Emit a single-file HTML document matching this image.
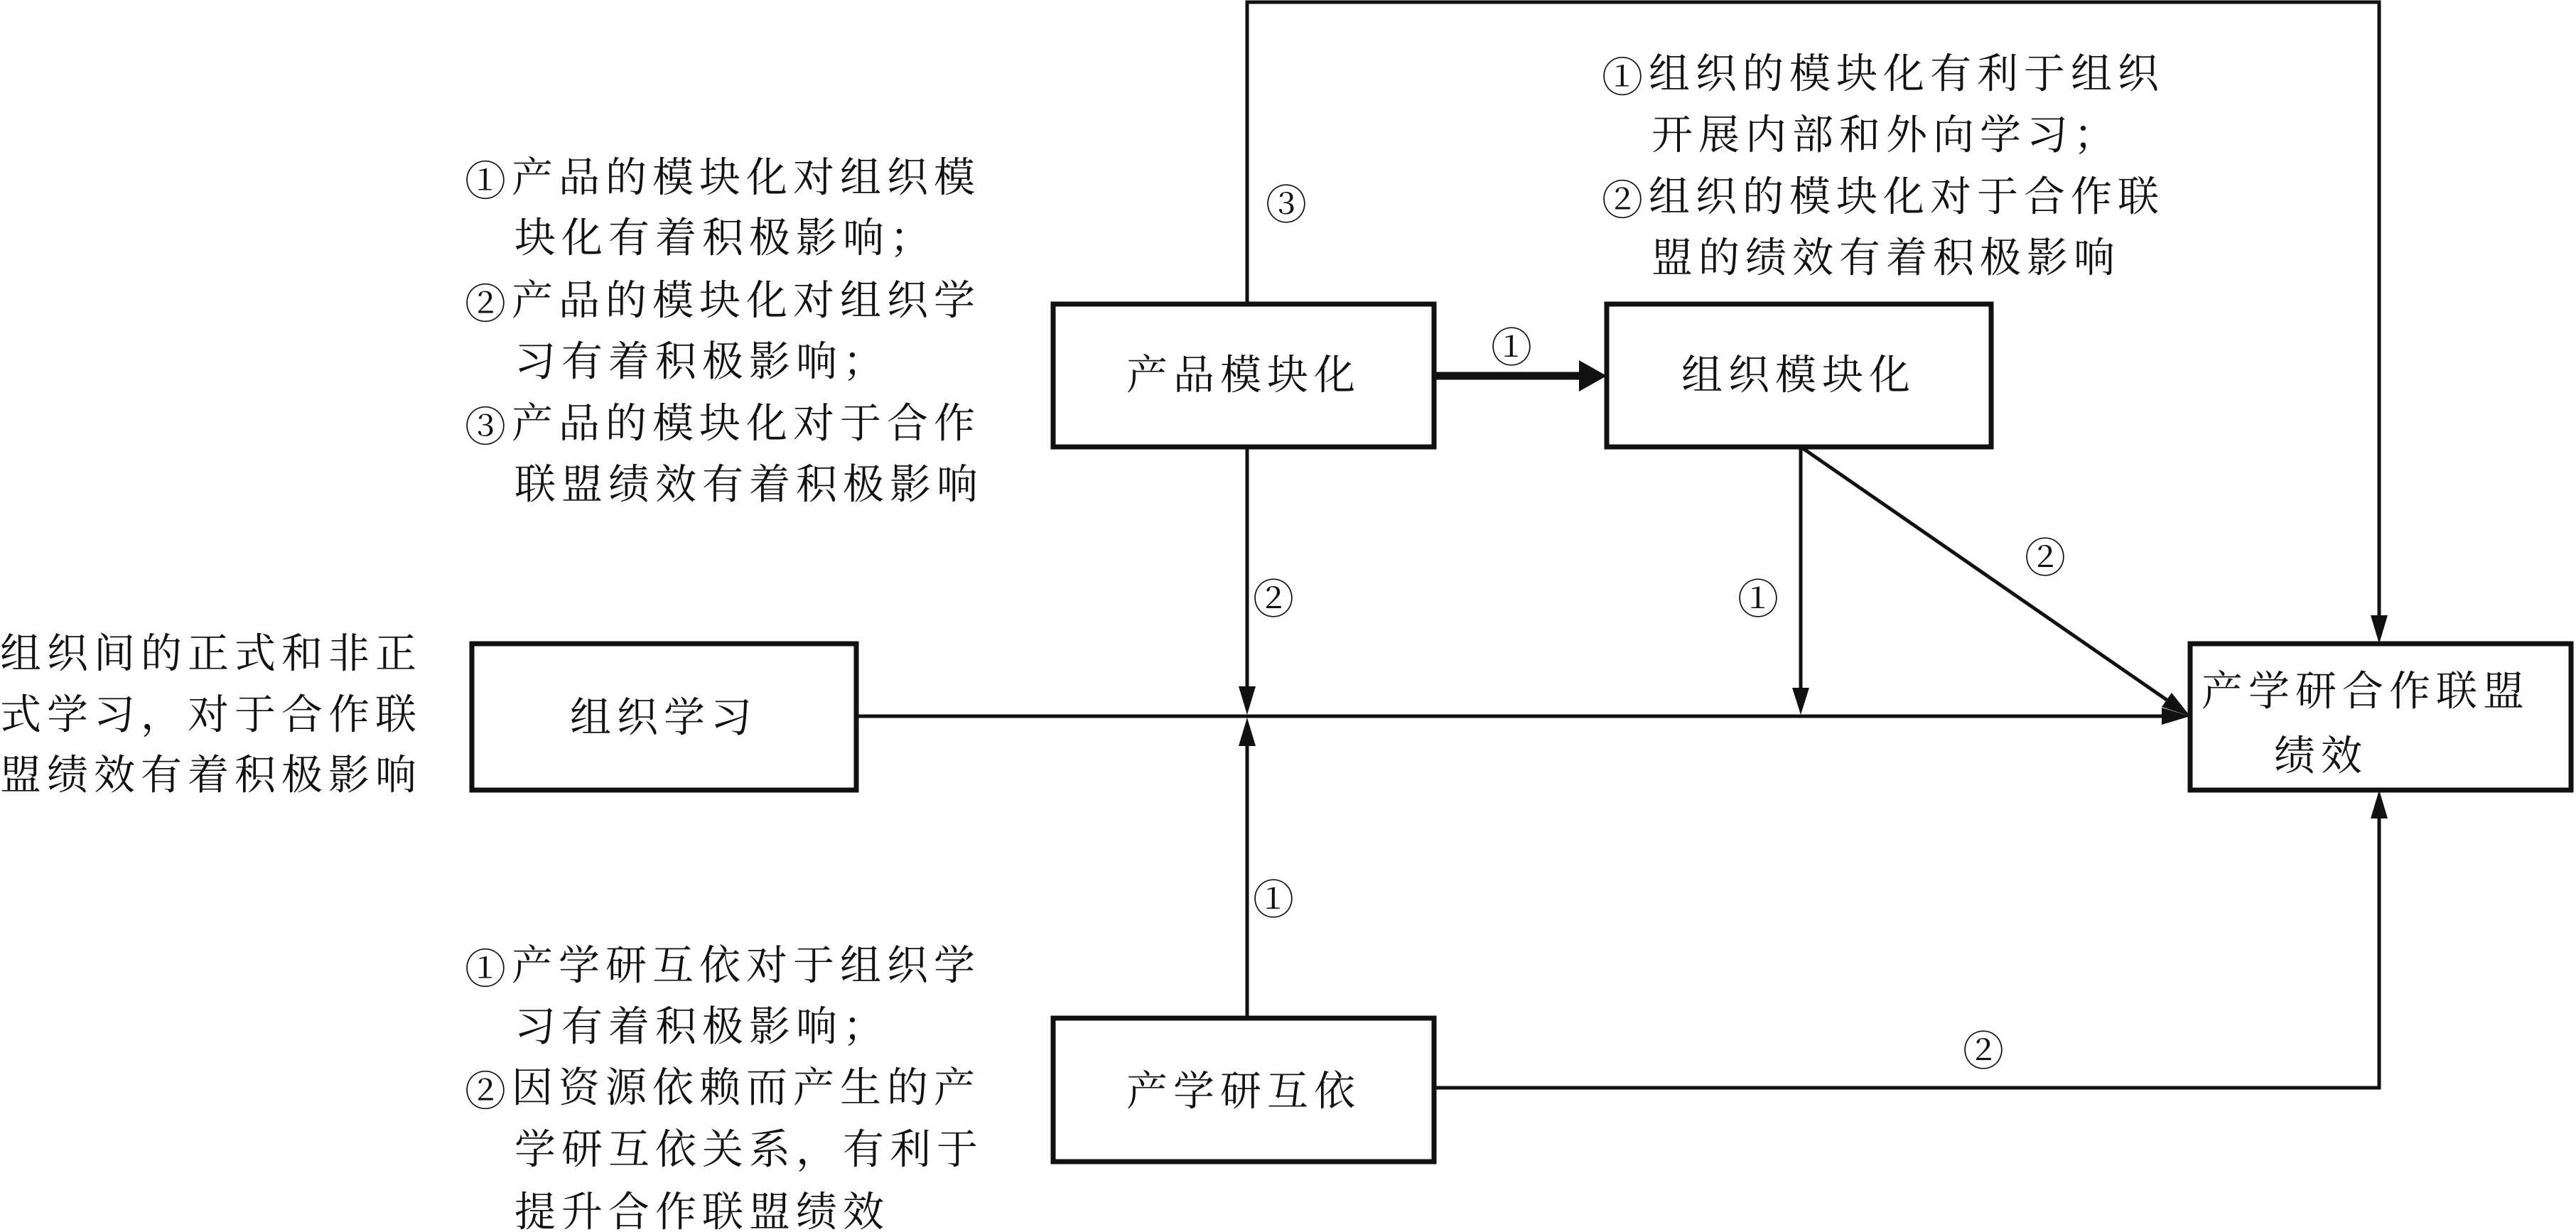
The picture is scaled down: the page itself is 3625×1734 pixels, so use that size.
<!DOCTYPE html>
<html><head><meta charset="utf-8"><style>
html,body{margin:0;padding:0;background:#fff;}
svg{display:block;}
text{font-family:"Liberation Serif","Noto Serif CJK SC",serif;font-size:58px;fill:#111;dominant-baseline:central;}
.t{letter-spacing:8px;}
.c{font-family:"Noto Serif CJK SC",serif;}
</style></head><body>
<svg width="3625" height="1734" viewBox="0 0 3625 1734" xmlns="http://www.w3.org/2000/svg">
<g fill="none" stroke="#111" stroke-width="7">
<rect x="1482" y="428" width="536" height="201"/>
<rect x="2261" y="428" width="541" height="201"/>
<rect x="664" y="906" width="541" height="206"/>
<rect x="3082" y="906" width="536" height="206"/>
<rect x="1482" y="1433" width="536" height="202"/>
</g>
<g fill="none" stroke="#111" stroke-width="5">
<polyline points="1755,428 1755,3 3348,3 3348,870"/>
<line x1="1755" y1="629" x2="1755" y2="970"/>
<line x1="1205" y1="1008" x2="3045" y2="1008"/>
<line x1="1755" y1="1433" x2="1755" y2="1046"/>
<line x1="2534" y1="629" x2="2534" y2="972"/>
<line x1="2534" y1="629" x2="3049" y2="985"/>
<polyline points="2018,1531 3348,1531 3348,1148"/>
</g>
<line x1="2018" y1="529" x2="2225" y2="529" stroke="#111" stroke-width="11"/>
<g fill="#111">
<polygon points="3348,906 3336,866 3360,866"/>
<polygon points="1755,1006 1743,966 1767,966"/>
<polygon points="1755,1010 1743,1050 1767,1050"/>
<polygon points="2534,1006 2522,968 2546,968"/>
<polygon points="3082,1008 3042,996 3042,1020"/>
<polygon points="3082,1008 3042,995 3056,975"/>
<polygon points="3348,1112 3336,1152 3360,1152"/>
<polygon points="2261,529 2222,507 2222,551"/>
</g>
<text x="1750" y="528" text-anchor="middle" class="t">产品模块化</text>
<text x="2531" y="528" text-anchor="middle" class="t">组织模块化</text>
<text x="934" y="1010" text-anchor="middle" class="t">组织学习</text>
<text x="1750" y="1536" text-anchor="middle" class="t">产学研互依</text>
<text x="3098" y="973" class="t">产学研合作联盟</text>
<text x="3200" y="1064" class="t">绩效</text>
<g class="c">
<text x="1810" y="289" text-anchor="middle">③</text>
<text x="2127" y="490" text-anchor="middle">①</text>
<text x="1792" y="844" text-anchor="middle">②</text>
<text x="2474" y="844" text-anchor="middle">①</text>
<text x="2878" y="786" text-anchor="middle">②</text>
<text x="1792" y="1267" text-anchor="middle">①</text>
<text x="2791" y="1480" text-anchor="middle">②</text>
</g>
<g class="t">
<text x="654" y="250"><tspan class="c">①</tspan>产品的模块化对组织模</text>
<text x="724" y="335">块化有着积极影响；</text>
<text x="654" y="423"><tspan class="c">②</tspan>产品的模块化对组织学</text>
<text x="724" y="509">习有着积极影响；</text>
<text x="654" y="596"><tspan class="c">③</tspan>产品的模块化对于合作</text>
<text x="724" y="682">联盟绩效有着积极影响</text>
<text x="2254" y="104"><tspan class="c">①</tspan>组织的模块化有利于组织</text>
<text x="2324" y="190">开展内部和外向学习；</text>
<text x="2254" y="277"><tspan class="c">②</tspan>组织的模块化对于合作联</text>
<text x="2324" y="363">盟的绩效有着积极影响</text>
<text x="0" y="920">组织间的正式和非正</text>
<text x="0" y="1006">式学习，对于合作联</text>
<text x="0" y="1091">盟绩效有着积极影响</text>
<text x="654" y="1359"><tspan class="c">①</tspan>产学研互依对于组织学</text>
<text x="724" y="1445">习有着积极影响；</text>
<text x="654" y="1531"><tspan class="c">②</tspan>因资源依赖而产生的产</text>
<text x="724" y="1618">学研互依关系，有利于</text>
<text x="724" y="1706">提升合作联盟绩效</text>
</g>
</svg>
</body></html>
